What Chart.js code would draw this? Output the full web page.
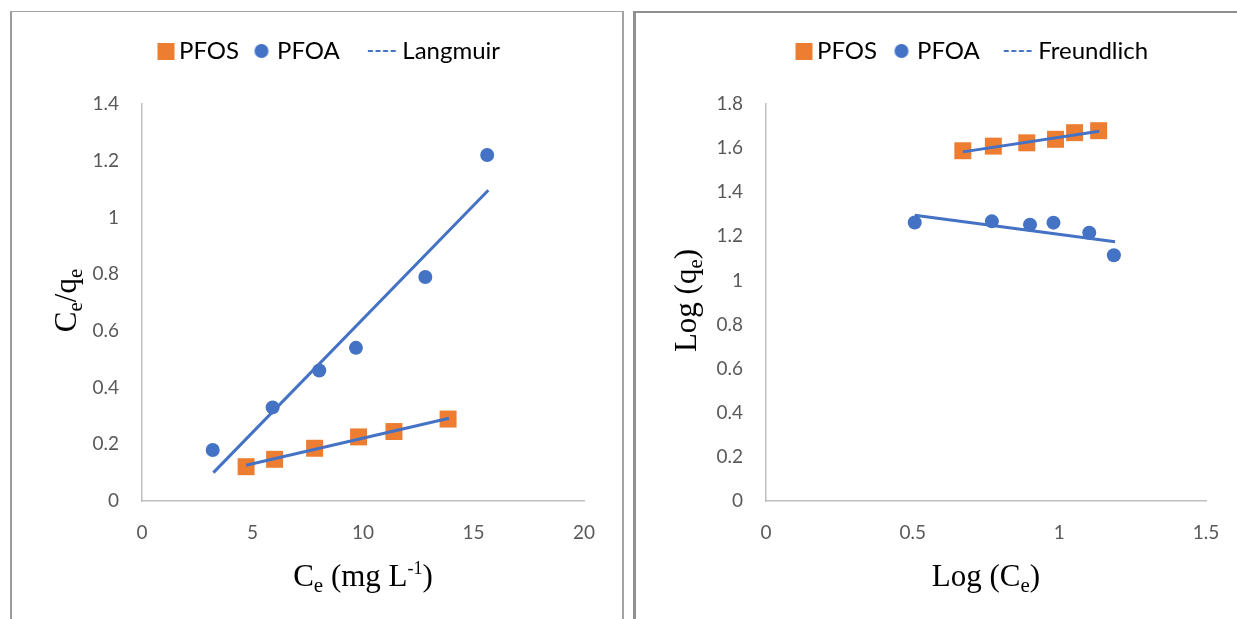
<!DOCTYPE html>
<html>
<head>
<meta charset="utf-8">
<script src="https://cdn.jsdelivr.net/npm/chart.js@4.4.1/dist/chart.umd.min.js"></script>
<style>
  html, body { margin: 0; padding: 0; background: #ffffff; }
  body { width: 1237px; height: 619px; position: relative; overflow: hidden; }
  .frame { position: absolute; box-sizing: border-box; }
  #frameL { left: 10px; top: 11px; width: 614px; height: 640px;
            border-left: 2px solid #9c9c9c; border-top: 1px solid #a6a6a6; border-right: 2px solid #a3a3a3; }
  #frameR { left: 633px; top: 11px; width: 640px; height: 640px;
            border-left: 3px solid #8f8f8f; border-top: 2px solid #8f8f8f; }
  canvas { position: absolute; }
  #cL { left: 12px; top: 12px; }
  #cR { left: 636px; top: 13px; }
</style>
</head>
<body>
<div class="frame" id="frameL"></div>
<div class="frame" id="frameR"></div>
<canvas id="cL" width="610" height="607"></canvas>
<canvas id="cR" width="601" height="606"></canvas>
<script>
// ---------------- Data: Langmuir panel (left) ----------------
const langPfosCe = [4.71, 6.00, 7.81, 9.80, 11.40, 13.85];
const langPfosCq = [0.121, 0.147, 0.186, 0.226, 0.245, 0.289];
const langPfoaCe = [3.20, 5.91, 8.02, 9.68, 12.82, 15.62];
const langPfoaCq = [0.18, 0.33, 0.46, 0.54, 0.79, 1.22];
const langFitPfosX = [4.71, 13.89];
const langFitPfosY = [0.126, 0.292];
const langFitPfoaX = [3.23, 15.67];
const langFitPfoaY = [0.100, 1.096];
const langXTicks = [0, 5, 10, 15, 20];
const langXTickLabels = ['0', '5', '10', '15', '20'];
const langYTicks = [0, 0.2, 0.4, 0.6, 0.8, 1, 1.2, 1.4];
const langYTickLabels = ['0', '0.2', '0.4', '0.6', '0.8', '1', '1.2', '1.4'];

// ---------------- Data: Freundlich panel (right) ----------------
const frPfosLogCe = [0.671, 0.775, 0.889, 0.987, 1.052, 1.134];
const frPfosLogQe = [1.588, 1.609, 1.624, 1.640, 1.670, 1.679];
const frPfoaLogCe = [0.507, 0.770, 0.900, 0.980, 1.102, 1.186];
const frPfoaLogQe = [1.263, 1.268, 1.253, 1.262, 1.216, 1.114];
const frFitPfosX = [0.671, 1.136];
const frFitPfosY = [1.583, 1.676];
const frFitPfoaX = [0.507, 1.190];
const frFitPfoaY = [1.296, 1.175];
const frXTicks = [0, 0.5, 1, 1.5];
const frXTickLabels = ['0', '0.5', '1', '1.5'];
const frYTicks = [0, 0.2, 0.4, 0.6, 0.8, 1, 1.2, 1.4, 1.6, 1.8];
const frYTickLabels = ['0', '0.2', '0.4', '0.6', '0.8', '1', '1.2', '1.4', '1.6', '1.8'];

const seriesNames = ['PFOS', 'PFOA'];

// ---------------- Styling ----------------
const ORANGE = '#ED7D31';
const BLUE = '#4472C4';
const TICK_COLOR = '#595959';
const LEG_FS = 24;
const LEG_BOX = 17;
Chart.defaults.font.family = 'Lato';

function pts(xs, ys) { return xs.map((x, i) => ({ x: x, y: ys[i] })); }

function markerCanvas(kind, color, size, shift) {
  const W = 2 * Math.ceil((size + 2 * Math.abs(shift) + 4) / 2);
  const H = kind === 'dash' ? 4 : 2 * Math.ceil((size + 4) / 2);
  const cv = document.createElement('canvas');
  cv.width = W; cv.height = H;
  const g = cv.getContext('2d');
  const cx = W / 2 + shift, cy = H / 2;
  g.fillStyle = color; g.strokeStyle = color;
  if (kind === 'rect') {
    g.fillRect(Math.round(cx - size / 2), Math.round(cy - size / 2), size, size);
  } else if (kind === 'circle') {
    g.beginPath(); g.arc(cx, cy, size / 2, 0, 2 * Math.PI); g.fill();
  } else {
    g.lineWidth = 2; g.setLineDash([5, 2.6]);
    g.beginPath(); g.moveTo(cx - size / 2, cy); g.lineTo(cx + size / 2, cy); g.stroke();
  }
  return cv;
}

// place legend texts at target x positions (canvas coordinates)
function planLegend(texts, targetX, legendRight) {
  const c = document.createElement('canvas').getContext('2d');
  c.font = LEG_FS + 'px Lato';
  const w = t => c.measureText(t).width;
  const off = LEG_BOX + LEG_FS / 2;
  const lp = Math.max(2, targetX[1] - targetX[0] - off - w(texts[0]));
  const extra = targetX[2] - targetX[1] - off - lp - w(texts[1]);
  const n = Math.max(0, Math.round(extra / w(' ')));
  const labels = [texts[0], texts[1] + ' '.repeat(n), texts[2]];
  let lineW = 0;
  labels.forEach(t => { lineW += off + w(t) + lp; });
  const padLeft = 2 * (targetX[0] - off) - lp - legendRight + lineW;
  return { lp: lp, labels: labels, padLeft: padLeft };
}

function drawRich(ctx, segs, cx, baseline) {
  const fontFor = s => (s.sub ? '21px' : s.sup ? '18px' : '31px') + ' "Liberation Serif", "Times New Roman", serif';
  let total = 0;
  segs.forEach(s => { ctx.font = fontFor(s); total += ctx.measureText(s.t).width; });
  let x = cx - total / 2;
  ctx.fillStyle = '#000000';
  ctx.textBaseline = 'alphabetic';
  ctx.textAlign = 'left';
  segs.forEach(s => {
    ctx.font = fontFor(s);
    const dy = s.sub ? 6 : s.sup ? -12 : 0;
    ctx.fillText(s.t, x, baseline + dy);
    x += ctx.measureText(s.t).width;
  });
}

const richTitlePlugin = {
  id: 'richTitles',
  afterDraw(chart, args, opts) {
    const ctx = chart.ctx, a = chart.chartArea;
    ctx.save();
    drawRich(ctx, opts.x, (a.left + a.right) / 2, opts.xBaseline);
    ctx.restore();
    ctx.save();
    ctx.translate(opts.yBaseline, (a.top + a.bottom) / 2 + opts.yShift);
    ctx.rotate(-Math.PI / 2);
    drawRich(ctx, opts.y, 0, 0);
    ctx.restore();
  }
};

function buildChart(id, p) {
  const canvas = document.getElementById(id);
  const W = canvas.width, H = canvas.height;
  const leg = planLegend([seriesNames[0], seriesNames[1], p.fitName], p.legendTextX, W);
  const legendTop = p.legendCenterY - leg.lp - LEG_FS / 2;
  const legendBottom = legendTop + LEG_FS + leg.lp + 10;
  const spacer = p.plotTop - legendBottom;
  const imgs = [markerCanvas('rect', ORANGE, 17, 7), markerCanvas('circle', BLUE, 14, 5), markerCanvas('dash', BLUE, 28, 0)];
  const legColors = [ORANGE, BLUE, BLUE];
  const legIdx = [2, 3, 0];
  const tickFont = { size: 19, family: 'Lato' };
  const rightGap = W - p.plotRight;

  return new Chart(canvas, {
    type: 'scatter',
    data: {
      datasets: [
        { label: p.fitName + ' PFOS', data: pts(p.fitPfosX, p.fitPfosY), showLine: true,
          borderColor: BLUE, backgroundColor: BLUE, borderWidth: 3, pointRadius: 0, order: 0 },
        { label: p.fitName + ' PFOA', data: pts(p.fitPfoaX, p.fitPfoaY), showLine: true,
          borderColor: BLUE, backgroundColor: BLUE, borderWidth: 3, pointRadius: 0, order: 0 },
        { label: seriesNames[0], data: pts(p.pfosX, p.pfosY), pointStyle: 'rect', pointRadius: 12,
          backgroundColor: ORANGE, borderColor: ORANGE, pointBorderWidth: 0, order: 1 },
        { label: seriesNames[1], data: pts(p.pfoaX, p.pfoaY), pointStyle: 'circle', pointRadius: 7,
          backgroundColor: BLUE, borderColor: BLUE, pointBorderWidth: 0, order: 1 }
      ]
    },
    options: {
      responsive: false,
      animation: false,
      devicePixelRatio: 1,
      layout: { padding: { left: leg.padLeft, right: 0, top: legendTop, bottom: 0 } },
      plugins: {
        legend: {
          display: true, position: 'top', align: 'center',
          labels: {
            usePointStyle: true, pointStyleWidth: LEG_BOX, padding: leg.lp,
            color: '#000000', font: { size: LEG_FS, family: 'Lato' },
            generateLabels: () => leg.labels.map((t, i) => ({
              text: t, fillStyle: legColors[i], strokeStyle: legColors[i], lineWidth: 0,
              pointStyle: imgs[i], hidden: false, datasetIndex: legIdx[i], fontColor: '#000000'
            }))
          }
        },
        subtitle: { display: true, text: '', weight: 100, font: { size: 10 }, padding: { top: spacer - 12, bottom: 0 } },
        title: { display: false },
        tooltip: { enabled: false },
        richTitles: { x: p.xTitle, y: p.yTitle, xBaseline: p.xTitleBaseline, yBaseline: p.yTitleBaseline, yShift: p.yTitleShift }
      },
      scales: {
        x: {
          type: 'linear', position: 'bottom', min: p.xTicks[0], max: p.xTicks[p.xTicks.length - 1],
          afterBuildTicks: s => { s.ticks = p.xTicks.map(v => ({ value: v })); },
          afterFit: s => { s.height = H - p.plotBottom; s.paddingLeft = 0; s.paddingRight = rightGap; },
          ticks: { autoSkip: false, maxRotation: 0, minRotation: 0, padding: 20, color: TICK_COLOR, font: tickFont,
                   callback: (v, i) => p.xTickLabels[i] },
          grid: { display: false, drawTicks: false },
          border: { display: true, color: '#bfbfbf', width: 1.5 }
        },
        y: {
          type: 'linear', position: 'left', min: p.yTicks[0], max: p.yTicks[p.yTicks.length - 1],
          afterBuildTicks: s => { s.ticks = p.yTicks.map(v => ({ value: v })); },
          afterFit: s => { s.width = p.plotLeft - leg.padLeft; s.paddingTop = 0; s.paddingBottom = 0; },
          ticks: { autoSkip: false, padding: 23, color: TICK_COLOR, font: tickFont,
                   callback: (v, i) => p.yTickLabels[i] },
          grid: { display: false, drawTicks: false },
          border: { display: true, color: '#bfbfbf', width: 1.5 }
        }
      }
    },
    plugins: [richTitlePlugin]
  });
}

buildChart('cL', {
  fitName: 'Langmuir',
  pfosX: langPfosCe, pfosY: langPfosCq, pfoaX: langPfoaCe, pfoaY: langPfoaCq,
  fitPfosX: langFitPfosX, fitPfosY: langFitPfosY, fitPfoaX: langFitPfoaX, fitPfoaY: langFitPfoaY,
  xTicks: langXTicks, xTickLabels: langXTickLabels, yTicks: langYTicks, yTickLabels: langYTickLabels,
  plotLeft: 130, plotRight: 572, plotTop: 92, plotBottom: 489,
  legendTextX: [167, 265, 393], legendCenterY: 39,
  xTitle: [{ t: 'C' }, { t: 'e', sub: true }, { t: ' (mg L' }, { t: '-1', sup: true }, { t: ')' }],
  yTitle: [{ t: 'C' }, { t: 'e', sub: true }, { t: '/q' }, { t: 'e', sub: true }],
  xTitleBaseline: 574, yTitleBaseline: 64, yTitleShift: -2
});

buildChart('cR', {
  fitName: 'Freundlich',
  pfosX: frPfosLogCe, pfosY: frPfosLogQe, pfoaX: frPfoaLogCe, pfoaY: frPfoaLogQe,
  fitPfosX: frFitPfosX, fitPfosY: frFitPfosY, fitPfoaX: frFitPfoaX, fitPfoaY: frFitPfoaY,
  xTicks: frXTicks, xTickLabels: frXTickLabels, yTicks: frYTicks, yTickLabels: frYTickLabels,
  plotLeft: 130, plotRight: 570, plotTop: 91, plotBottom: 488,
  legendTextX: [181, 281, 404], legendCenterY: 38,
  xTitle: [{ t: 'Log (C' }, { t: 'e', sub: true }, { t: ')' }],
  yTitle: [{ t: 'Log (q' }, { t: 'e', sub: true }, { t: ')' }],
  xTitleBaseline: 573, yTitleBaseline: 60, yTitleShift: -2
});
</script>
</body>
</html>
